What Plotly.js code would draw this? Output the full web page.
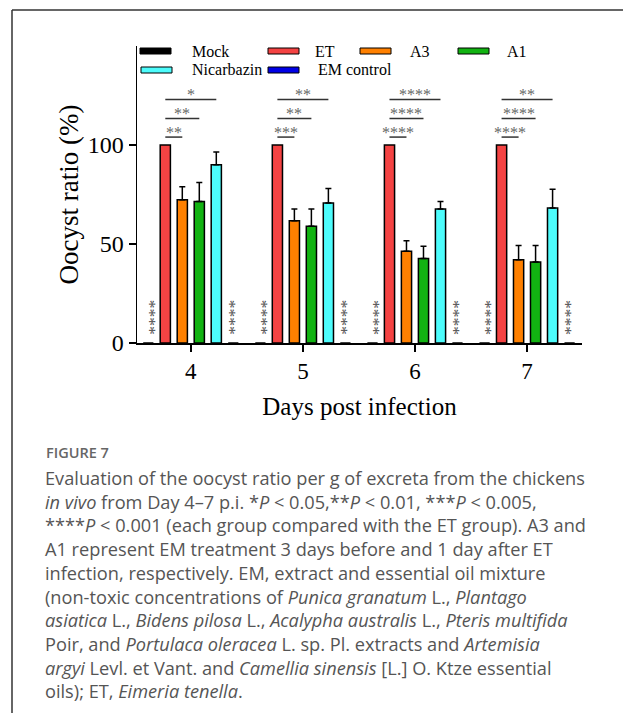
<!DOCTYPE html>
<html>
<head>
<meta charset="utf-8">
<script src="https://cdn.plot.ly/plotly-3.0.1.min.js"></script>
<style>html,body{margin:0;padding:0;background:#fff;}#chart{width:623px;height:713px;}</style>
</head>
<body>
<div id="chart"></div>
<script>
// ---- data ----
const days = [4, 5, 6, 7];
const groups = ['Mock', 'ET', 'A3', 'A1', 'Nicarbazin', 'EM control'];
const mockVals = [0, 0, 0, 0];
const etVals = [100, 100, 100, 100];
const a3Vals = [72.4, 61.7, 46.4, 42.0];
const a3Err = [6.5, 6.0, 5.2, 7.2];
const a1Vals = [71.5, 59.0, 42.7, 40.9];
const a1Err = [9.5, 8.7, 6.2, 8.3];
const nicVals = [90.0, 70.7, 67.7, 68.2];
const nicErr = [6.5, 7.3, 3.8, 9.5];
const emVals = [0, 0, 0, 0];
// significance vs ET
const sigA3 = ['**', '***', '****', '****'];
const sigA1 = ['**', '**', '****', '****'];
const sigNic = ['*', '**', '****', '**'];
const sigZero = '****';
const yTicks = [0, 50, 100];

const colors = ['#000000', '#F44343', '#FF8000', '#12B312', '#4DFCFC', '#0000E6'];
const serif = 'Liberation Serif, Times New Roman, serif';

// geometry
const L = 137, R = 582, T = 46, B = 343, W = 623, H = 713;
const bargap = 0.09;
const slot = (1 - bargap) / groups.length;
const off = i => (i - (groups.length - 1) / 2) * slot;
const px = x => (x - L) / (R - L);
const py = y => (B - y) / (B - T);

function barTrace(name, vals, err, idx) {
  const t = {
    type: 'bar', name: name, x: days, y: vals,
    marker: {color: colors[idx], line: {color: '#000', width: 1.5}},
    showlegend: false, hoverinfo: 'none'
  };
  if (err) {
    t.error_y = {type: 'data', symmetric: false, array: err, arrayminus: days.map(() => 0),
      color: '#000', thickness: 1.5, width: 3};
  }
  return t;
}
const data = [
  barTrace('Mock', mockVals, null, 0),
  barTrace('ET', etVals, null, 1),
  barTrace('A3', a3Vals, a3Err, 2),
  barTrace('A1', a1Vals, a1Err, 3),
  barTrace('Nicarbazin', nicVals, nicErr, 4),
  barTrace('EM control', emVals, null, 5)
];

const shapes = [];
const annotations = [];
// significance brackets
const brackets = [[sigA3, 2, 104], [sigA1, 3, 113.4], [sigNic, 4, 123]];
days.forEach((d, k) => {
  brackets.forEach(([labels, idx, y]) => {
    const x0 = d + off(1), x1 = d + off(idx);
    shapes.push({type: 'line', xref: 'x', yref: 'y', x0: x0, x1: x1, y0: y, y1: y,
      line: {color: '#333', width: 1.5}});
    annotations.push({xref: 'x', yref: 'y', x: (x0 + x1) / 2, y: y, text: labels[k],
      showarrow: false, yanchor: 'bottom', yshift: -6,
      font: {family: serif, size: 16, color: '#666'}});
  });
  // vertical stacks of asterisks above the zero-valued groups
  [[0, 6], [5, 1]].forEach(([idx, xs]) => {
    annotations.push({xref: 'x', yref: 'y', x: d + off(idx), y: 12.9,
      text: sigZero, textangle: -90, showarrow: false, xanchor: 'center', yanchor: 'middle',
      xshift: xs, font: {family: serif, size: 17.5, color: '#555'}});
  });
});

// legend (manual, long rectangular keys)
const legendItems = [
  [0, 140, 51, 190], [1, 268, 51, 313], [2, 360, 51, 408], [3, 458, 51, 505],
  [4, 141, 70, 190], [5, 268, 70, 316]
];
legendItems.forEach(([idx, sx, sy, tx]) => {
  shapes.push({type: 'rect', xref: 'paper', yref: 'paper', x0: px(sx), x1: px(sx + 31),
    y0: py(sy + 3), y1: py(sy - 3), fillcolor: colors[idx], line: {color: '#000', width: 1}});
  annotations.push({xref: 'paper', yref: 'paper', x: px(tx), y: py(sy), xanchor: 'left',
    yanchor: 'middle', text: groups[idx], showarrow: false,
    font: {family: serif, size: 16, color: '#000'}});
});

// figure frame (top and left)
shapes.push({type: 'line', xref: 'paper', yref: 'paper', x0: px(12), x1: px(12), y0: py(10), y1: py(H + 5),
  line: {color: '#333', width: 1.5}});
shapes.push({type: 'line', xref: 'paper', yref: 'paper', x0: px(12), x1: px(W + 5), y0: py(10), y1: py(10),
  line: {color: '#333', width: 1.5}});

// caption
const capFont = 'Open Sans, Noto Sans, sans-serif';
annotations.push({xref: 'paper', yref: 'paper', x: px(44), y: py(452), xanchor: 'left', yanchor: 'middle',
  text: 'FIGURE 7', showarrow: false, font: {family: capFont, size: 14.5, color: '#666', weight: 600}});
const captionLines = [
  'Evaluation of the oocyst ratio per g of excreta from the chickens',
  '<i>in vivo</i> from Day 4–7 p.i. *<i>P</i> &lt; 0.05,**<i>P</i> &lt; 0.01, ***<i>P</i> &lt; 0.005,',
  '****<i>P</i> &lt; 0.001 (each group compared with the ET group). A3 and',
  'A1 represent EM treatment 3 days before and 1 day after ET',
  'infection, respectively. EM, extract and essential oil mixture',
  '(non-toxic concentrations of <i>Punica granatum</i> L., <i>Plantago</i>',
  '<i>asiatica</i> L., <i>Bidens pilosa</i> L., <i>Acalypha australis</i> L., <i>Pteris multifida</i>',
  'Poir, and <i>Portulaca oleracea</i> L. sp. Pl. extracts and <i>Artemisia</i>',
  '<i>argyi</i> Levl. et Vant. and <i>Camellia sinensis</i> [L.] O. Ktze essential',
  'oils); ET, <i>Eimeria tenella</i>.'
];
captionLines.forEach((t, i) => {
  annotations.push({xref: 'paper', yref: 'paper', x: px(43), y: py(478 + i * 23.7), xanchor: 'left',
    yanchor: 'middle', text: t, showarrow: false, font: {family: capFont, size: 18.2, color: '#555'}});
});

const layout = {
  width: W, height: H,
  margin: {l: L, r: W - R, t: T, b: H - B, pad: 0},
  paper_bgcolor: '#fff', plot_bgcolor: '#fff',
  barmode: 'group', bargap: bargap, bargroupgap: 0.4,
  showlegend: false,
  xaxis: {
    range: [3.52, 7.49], tickvals: days, ticktext: days.map(String),
    showline: true, linecolor: '#000', linewidth: 1.5, showgrid: false, zeroline: false,
    ticks: 'outside', ticklen: 7, tickwidth: 1.5, tickcolor: '#000',
    tickfont: {family: serif, size: 23, color: '#000'},
    title: {text: 'Days post infection', font: {family: serif, size: 25, color: '#000'}, standoff: 14}
  },
  yaxis: {
    range: [0, 150], tickvals: yTicks, ticktext: yTicks.map(String),
    showline: true, linecolor: '#000', linewidth: 1.5, showgrid: false, zeroline: false,
    ticks: 'outside', ticklen: 7, tickwidth: 1.5, tickcolor: '#000',
    tickfont: {family: serif, size: 24, color: '#000'},
    title: {text: 'Oocyst ratio (%)', font: {family: serif, size: 27, color: '#000'}, standoff: 1}
  },
  shapes: shapes,
  annotations: annotations
};

Plotly.newPlot('chart', data, layout, {displayModeBar: false, staticPlot: true});
</script>
</body>
</html>
